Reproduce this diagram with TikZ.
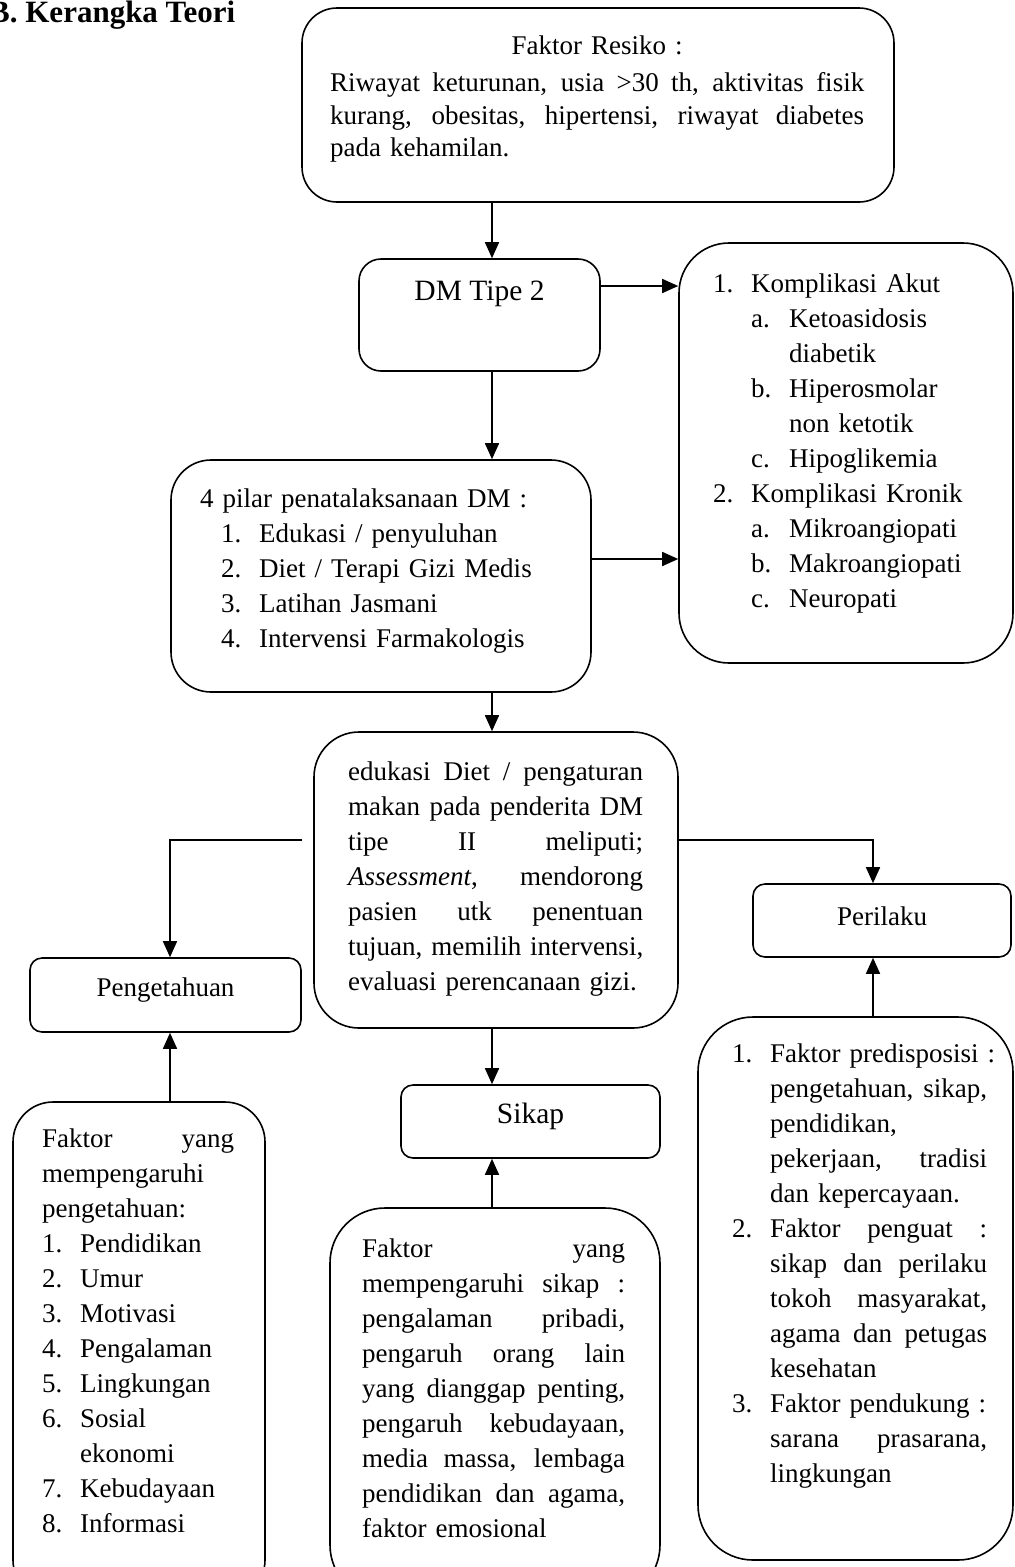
\documentclass[tikz,border=0pt]{standalone}
\usepackage{fontspec}
\setmainfont{Liberation Serif}
\usetikzlibrary{arrows.meta,positioning,calc}

% justified line and list label
\newcommand{\jl}[1]{\makebox[\hsize][s]{\spaceskip=.25em plus 1fil\relax #1}}
\newcommand{\lbl}[1]{\makebox[38pt][l]{#1}}

\begin{document}
\begin{tikzpicture}[x=1pt, y=-1pt,
    box/.style={draw, line width=1.6pt, inner sep=0pt},
    txt/.style={anchor=north west, inner sep=0pt, align=left, font=\fontsize{27}{35}\selectfont},
    lab/.style={font=\fontsize{27}{35}\selectfont},
    arr/.style={line width=1.6pt, -{Triangle[width=14pt,length=16pt]}}]
  \useasboundingbox (0,0) rectangle (1015,1567);

  % --- guide lines for the connectors ---
  \coordinate (spine) at (492,0);
  \coordinate (colL) at (170,0);
  \coordinate (colR) at (873,0);
  \coordinate (rowA) at (0,286);
  \coordinate (rowB) at (0,559);
  \coordinate (rowC) at (0,840);

  % --- title ---
  \node[anchor=base west, inner sep=0pt, font=\bfseries\fontsize{31}{36}\selectfont] (title) at (-11,22) {B. Kerangka Teori};

  % --- risk factors ---
  \node[box, rounded corners=35pt, minimum width=592pt, minimum height=194pt] (risk) at (598,105) {};
  \node[txt, font=\fontsize{27}{32.5}\selectfont, text width=534pt] (riskTxt) at (330,31.25) {%
    \strut\makebox[\hsize][c]{Faktor Resiko :}\\[5pt]
    \jl{Riwayat keturunan, usia >30 th, aktivitas fisik}\\
    \jl{kurang, obesitas, hipertensi, riwayat diabetes}\\
    pada kehamilan.};

  % --- DM tipe 2 ---
  \node[box, lab, rounded corners=22pt, minimum width=241pt, minimum height=112pt,
        font=\fontsize{29.5}{35}\selectfont, text height=8pt, text depth=38pt] (dm) at (479.5,315) {DM Tipe 2};

  % --- complications ---
  \node[box, rounded corners=50pt, minimum width=334pt, minimum height=420pt] (komp) at (846,453) {};
  \node[txt, text width=290pt] (kompTxt) at (713,267.5) {%
    \strut\lbl{1.}Komplikasi Akut\\
    \hspace*{38pt}\lbl{a.}Ketoasidosis\\
    \hspace*{76pt}diabetik\\
    \hspace*{38pt}\lbl{b.}Hiperosmolar\\
    \hspace*{76pt}non ketotik\\
    \hspace*{38pt}\lbl{c.}Hipoglikemia\\
    \lbl{2.}Komplikasi Kronik\\
    \hspace*{38pt}\lbl{a.}Mikroangiopati\\
    \hspace*{38pt}\lbl{b.}Makroangiopati\\
    \hspace*{38pt}\lbl{c.}Neuropati};

  % --- 4 pilar ---
  \node[box, rounded corners=40pt, minimum width=420pt, minimum height=232pt] (pilar) at (381,576) {};
  \node[txt, text width=385pt] (pilarTxt) at (200,482.5) {%
    \strut 4 pilar penatalaksanaan DM :\\
    \hspace*{21pt}\lbl{1.}Edukasi / penyuluhan\\
    \hspace*{21pt}\lbl{2.}Diet / Terapi Gizi Medis\\
    \hspace*{21pt}\lbl{3.}Latihan Jasmani\\
    \hspace*{21pt}\lbl{4.}Intervensi Farmakologis};

  % --- edukasi diet ---
  \node[box, rounded corners=45pt, minimum width=364pt, minimum height=296pt] (edu) at (496,880) {};
  \node[txt, text width=295pt] (eduTxt) at (348,755.5) {%
    \strut\jl{edukasi Diet / pengaturan}\\
    \jl{makan pada penderita DM}\\
    \jl{tipe II meliputi;}\\
    \jl{\textit{Assessment}, mendorong}\\
    \jl{pasien utk penentuan}\\
    \jl{tujuan, memilih intervensi,}\\
    evaluasi perencanaan gizi.};

  % --- pengetahuan, sikap, perilaku ---
  \node[box, lab, rounded corners=12pt, minimum width=271pt, minimum height=74pt,
        text height=19pt, text depth=17pt] (know) at (165.5,995) {Pengetahuan};
  \node[box, lab, rounded corners=12pt, minimum width=258pt, minimum height=73pt,
        text height=22pt, text depth=13pt] (behav) at (882,920.5) {Perilaku};
  \node[box, lab, rounded corners=12pt, minimum width=259pt, minimum height=73pt,
        font=\fontsize{29.5}{35}\selectfont, text height=19.5pt, text depth=16.5pt] (sikap) at (530.5,1121.5) {Sikap};

  % --- factors (bottom row) ---
  \node[box, rounded corners=40pt, minimum width=252pt, minimum height=498pt] (fknow) at (139,1351) {};
  \node[txt, text width=192pt] (fknowTxt) at (42,1122.5) {%
    \strut\jl{Faktor yang}\\
    mempengaruhi\\
    pengetahuan:\\
    \lbl{1.}Pendidikan\\
    \lbl{2.}Umur\\
    \lbl{3.}Motivasi\\
    \lbl{4.}Pengalaman\\
    \lbl{5.}Lingkungan\\
    \lbl{6.}Sosial\\
    \hspace*{38pt}ekonomi\\
    \lbl{7.}Kebudayaan\\
    \lbl{8.}Informasi};

  \node[box, rounded corners=55pt, minimum width=330pt, minimum height=392pt] (fsikap) at (495,1404) {};
  \node[txt, text width=263pt] (fsikapTxt) at (362,1232.5) {%
    \strut\jl{Faktor yang}\\
    \jl{mempengaruhi sikap :}\\
    \jl{pengalaman pribadi,}\\
    \jl{pengaruh orang lain}\\
    \jl{yang dianggap penting,}\\
    \jl{pengaruh kebudayaan,}\\
    \jl{media massa, lembaga}\\
    \jl{pendidikan dan agama,}\\
    faktor emosional};

  \node[box, rounded corners=55pt, minimum width=315pt, minimum height=543pt] (fbehav) at (855.5,1288.5) {};
  \node[txt, text width=217pt] (fbehavTxt) at (770,1037.5) {%
    \strut\llap{\lbl{1.}}\mbox{Faktor predisposisi :}\\
    \jl{pengetahuan, sikap,}\\
    pendidikan,\\
    \jl{pekerjaan, tradisi}\\
    dan kepercayaan.\\
    \strut\llap{\lbl{2.}}\jl{Faktor penguat :}\\
    \jl{sikap dan perilaku}\\
    \jl{tokoh masyarakat,}\\
    \jl{agama dan petugas}\\
    kesehatan\\
    \strut\llap{\lbl{3.}}\mbox{Faktor pendukung :}\\
    \jl{sarana prasarana,}\\
    lingkungan};

  % --- connectors ---
  \draw[arr] (risk.south -| spine) -- (dm.north -| spine);
  \draw[arr] (dm.east |- rowA) -- (komp.west |- rowA);
  \draw[arr] (dm.south -| spine) -- (pilar.north -| spine);
  \draw[arr] (pilar.east |- rowB) -- (komp.west |- rowB);
  \draw[arr] (pilar.south -| spine) -- (edu.north -| spine);
  \draw[arr, shorten <=11pt] (edu.west |- rowC) -| (know.north -| colL);
  \draw[arr] (edu.east |- rowC) -| (behav.north -| colR);
  \draw[arr] (edu.south -| spine) -- (sikap.north -| spine);
  \draw[arr] (fknow.north -| colL) -- (know.south -| colL);
  \draw[arr] (fsikap.north -| spine) -- (sikap.south -| spine);
  \draw[arr] (fbehav.north -| colR) -- (behav.south -| colR);
\end{tikzpicture}
\end{document}
